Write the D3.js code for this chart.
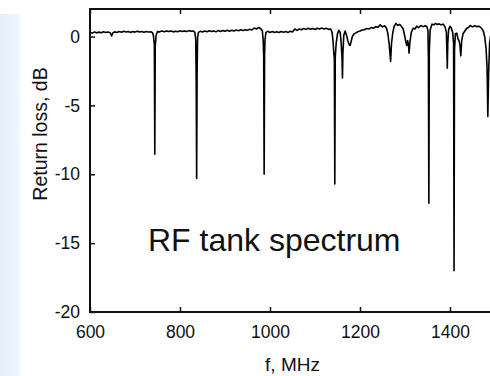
<!DOCTYPE html>
<html>
<head>
<meta charset="utf-8">
<script src="https://cdn.jsdelivr.net/npm/d3@7/dist/d3.min.js"></script>
<style>
  body { margin: 0; background: #ffffff; }
  #chart text { font-family: "Liberation Sans", Arial, sans-serif; fill: #111; }
</style>
</head>
<body>
<div id="chart"></div>
<script>
const width = 490;
const height = 376;

// frequency (MHz), return loss (dB)
const spectrum = [
  [600,0.30],[605,0.25],[610,0.33],[615,0.27],[620,0.32],[625,0.28],[630,0.35],[635,0.29],[640,0.33],[645,0.28],
  [648,0.05],[651,0.27],[655,0.34],[660,0.30],[665,0.36],[670,0.31],[675,0.38],[680,0.33],[685,0.37],[690,0.30],
  [695,0.36],[700,0.32],[705,0.39],[710,0.33],[715,0.37],[720,0.31],[725,0.36],[730,0.33],[735,0.35],[739,0.28],
  [741,0.05],[743,-0.6],[744,-8.55],[745,-0.7],[747,0.10],[750,0.36],[755,0.34],[760,0.40],[765,0.35],[770,0.41],
  [775,0.36],[780,0.40],[785,0.34],[790,0.39],[795,0.35],[800,0.42],[805,0.37],[810,0.41],[815,0.36],[820,0.43],
  [825,0.38],[830,0.40],[833,0.30],[835,-0.2],[836,-3.2],[837,-10.3],[838,-2.8],[839,-0.1],[841,0.30],[845,0.38],
  [850,0.33],[855,0.40],[860,0.35],[865,0.42],[870,0.36],[875,0.41],[880,0.35],[885,0.43],[890,0.37],[895,0.44],
  [900,0.38],[905,0.45],[910,0.39],[915,0.46],[920,0.40],[925,0.47],[930,0.42],[935,0.49],[940,0.43],[945,0.50],
  [950,0.45],[955,0.53],[960,0.48],[965,0.62],[970,0.55],[975,0.66],[980,0.55],[983,0.40],[985,-0.3],[986,-1.5],
  [987,-10.0],[988,-1.2],[989,-0.2],[991,0.30],[995,0.38],[1000,0.30],[1005,0.36],[1010,0.29],[1015,0.35],[1020,0.30],
  [1025,0.37],[1030,0.31],[1035,0.36],[1040,0.30],[1045,0.38],[1050,0.33],[1055,0.55],[1060,0.45],[1065,0.55],[1070,0.50],
  [1075,0.58],[1080,0.52],[1085,0.60],[1090,0.53],[1095,0.59],[1100,0.51],[1105,0.60],[1110,0.54],[1115,0.62],[1120,0.55],
  [1125,0.60],[1130,0.52],[1135,0.55],[1138,0.30],[1140,-0.3],[1142,-1.3],[1143,-1.6],[1144,-10.7],[1145,-1.5],[1147,-0.5],
  [1150,0.20],[1153,0.45],[1156,0.30],[1158,-0.4],[1160,-1.5],[1161,-3.0],[1162,-1.2],[1164,0.10],[1167,0.40],[1170,0.10],
  [1173,-0.3],[1176,-0.6],[1178,-0.65],[1180,-0.4],[1183,0.0],[1187,0.20],[1190,0.25],[1195,0.35],[1200,0.40],[1205,0.48],
  [1210,0.50],[1215,0.58],[1220,0.55],[1225,0.65],[1230,0.60],[1235,0.72],[1240,0.68],[1245,0.85],[1250,0.70],[1255,0.78],
  [1259,0.60],[1262,0.20],[1265,-0.6],[1268,-1.8],[1270,-0.5],[1273,0.30],[1276,0.75],[1280,0.95],[1284,0.80],[1288,0.88],
  [1292,0.75],[1296,0.55],[1299,0.10],[1302,-0.4],[1304,-0.65],[1306,-0.3],[1308,-0.7],[1309,-1.2],[1311,-0.4],[1314,0.30],
  [1318,0.60],[1322,0.55],[1326,0.75],[1330,0.65],[1335,0.80],[1340,0.72],[1345,0.78],[1349,0.70],[1351,0.40],[1352,-1.5],
  [1353,-12.1],[1354,-1.0],[1356,0.50],[1360,0.90],[1364,0.85],[1368,0.95],[1372,0.88],[1376,0.92],[1380,0.85],[1385,0.90],
  [1389,0.70],[1392,0.30],[1393,-1.0],[1394,-2.3],[1395,-0.5],[1397,0.50],[1400,0.75],[1403,0.60],[1406,0.30],[1408,-0.5],
  [1409,-17.0],[1410,-1.0],[1412,0.20],[1415,0.25],[1418,-0.2],[1420,-0.3],[1422,-0.6],[1424,-1.4],[1426,-0.3],[1429,0.20],
  [1433,0.40],[1437,0.60],[1441,0.65],[1445,0.80],[1450,0.70],[1455,0.78],[1460,0.72],[1465,0.75],[1470,0.60],[1474,0.40],
  [1477,0.0],[1480,-0.8],[1482,-2.0],[1483,-3.3],[1484,-5.8],[1486,-2.5],[1488,-0.5],[1492,0.40],[1500,0.60]
];

const xTicks = [600, 800, 1000, 1200, 1400];
const yTicks = [0, -5, -10, -15, -20];
const xDomain = [600, 1500];
const yDomain = [-20, 2];

const svg = d3.select("#chart")
  .append("svg")
  .attr("width", width)
  .attr("height", height)
  .style("display", "block");

// pale blue strip on the left edge of the slide
const grad = svg.append("defs").append("linearGradient")
  .attr("id", "strip")
  .attr("x1", "0").attr("x2", "1").attr("y1", "0").attr("y2", "0");
grad.append("stop").attr("offset", "0%").attr("stop-color", "#e4eef9");
grad.append("stop").attr("offset", "80%").attr("stop-color", "#eef5fc");
grad.append("stop").attr("offset", "100%").attr("stop-color", "#ffffff");

svg.append("rect")
  .attr("x", 0).attr("y", 14)
  .attr("width", 22).attr("height", height - 14)
  .attr("fill", "url(#strip)");

const xScale = d3.scaleLinear()
  .domain(xDomain)
  .range([90, 495]);

const yScale = d3.scaleLinear()
  .domain(yDomain)
  .range([312, 9]);

const tickFont = "17.5px";

svg.append("g")
  .attr("transform", `translate(0, ${yScale(-20)})`)
  .call(d3.axisBottom(xScale).tickValues(xTicks).tickSizeInner(-5).tickSizeOuter(0).tickPadding(14).tickFormat(d => String(d)))
  .call(g => g.select(".domain").remove())
  .call(g => g.selectAll("text").style("font-size", tickFont));

svg.append("g")
  .attr("transform", `translate(0, ${yScale(2)})`)
  .call(d3.axisTop(xScale).tickValues(xTicks).tickSizeInner(-5).tickSizeOuter(0).tickFormat(""))
  .call(g => g.select(".domain").remove());

svg.append("g")
  .attr("transform", `translate(${xScale(600)}, 0)`)
  .call(d3.axisLeft(yScale).tickValues(yTicks).tickSizeInner(-5).tickSizeOuter(0).tickPadding(10).tickFormat(d => String(d)))
  .call(g => g.select(".domain").remove())
  .call(g => g.selectAll("text").style("font-size", tickFont));

svg.selectAll(".tick line").attr("stroke", "#111").attr("stroke-width", 1.5);

// plot frame
svg.append("rect")
  .attr("x", xScale(600))
  .attr("y", yScale(2))
  .attr("width", xScale(1500) - xScale(600))
  .attr("height", yScale(-20) - yScale(2))
  .attr("fill", "none")
  .attr("stroke", "#111")
  .attr("stroke-width", 2);

svg.append("path")
  .datum(spectrum)
  .attr("fill", "none")
  .attr("stroke", "#000")
  .attr("stroke-width", 1.6)
  .attr("stroke-linejoin", "round")
  .attr("d", d3.line()
    .x(d => xScale(d[0]))
    .y(d => yScale(d[1]))
  );

svg.append("text")
  .attr("x", 148)
  .attr("y", 251)
  .style("font-size", "32px")
  .text("RF tank spectrum");

svg.append("text")
  .attr("x", (xScale(600) + xScale(1500)) / 2)
  .attr("y", 371)
  .attr("text-anchor", "middle")
  .style("font-size", "19px")
  .text("f, MHz");

svg.append("text")
  .attr("transform", "translate(47, 134) rotate(-90)")
  .attr("text-anchor", "middle")
  .style("font-size", "19.5px")
  .text("Return loss, dB");
</script>
</body>
</html>
